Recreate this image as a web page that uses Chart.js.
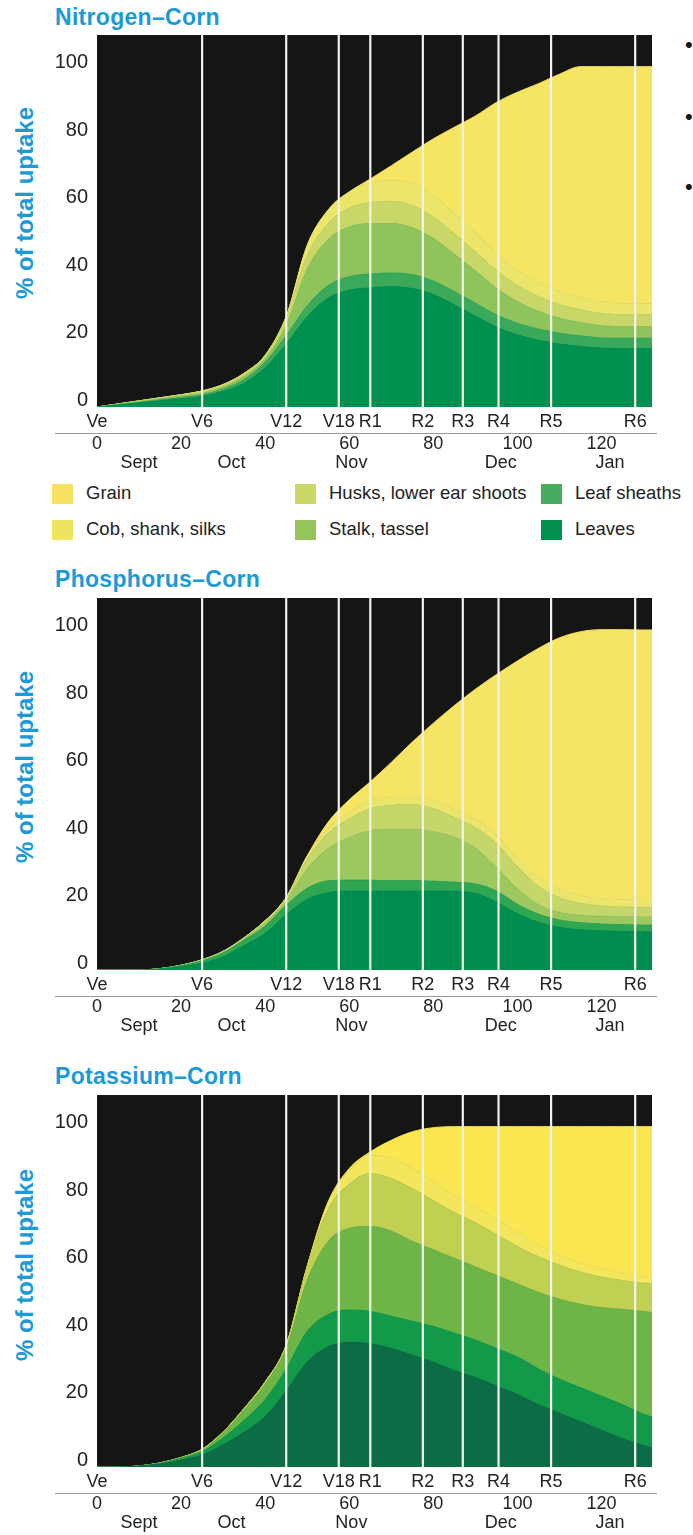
<!DOCTYPE html>
<html>
<head>
<meta charset="utf-8">
<title>Nutrient uptake - corn</title>
<script src="https://cdn.jsdelivr.net/npm/chart.js@4.4.1/dist/chart.umd.min.js"></script>
<style>
  body {
    margin: 0;
    width: 693px;
    height: 1535px;
    position: relative;
    overflow: hidden;
    background: #fff;
    font-family: "Liberation Sans", Arial, sans-serif;
  }
  .title {
    position: absolute;
    left: 55px;
    font-size: 23px;
    line-height: 23px;
    font-weight: bold;
    letter-spacing: 0.3px;
    color: #1b9ad7;
  }
  .ytitle {
    position: absolute;
    left: -95px;
    width: 240px;
    height: 24px;
    line-height: 24px;
    font-size: 24px;
    font-weight: bold;
    color: #1b9ad7;
    text-align: center;
    transform: rotate(-90deg);
  }
  .box {
    position: absolute;
    left: 0;
    width: 693px;
    height: 450px;
  }
  .sw {
    position: absolute;
    width: 21px;
    height: 20px;
  }
  .lg {
    position: absolute;
    font-size: 18.5px;
    line-height: 20px;
    color: #222;
    white-space: nowrap;
  }
  .bullet {
    position: absolute;
    left: 685px;
    font-size: 22px;
    line-height: 22px;
    color: #111;
  }
</style>
</head>
<body>
<div class="title" style="top:6px">Nitrogen–Corn</div>
<div class="title" style="top:568px">Phosphorus–Corn</div>
<div class="title" style="top:1065px">Potassium–Corn</div>

<div class="ytitle" style="top:191px">% of total uptake</div>
<div class="ytitle" style="top:755px">% of total uptake</div>
<div class="ytitle" style="top:1253px">% of total uptake</div>

<div class="bullet" style="top:34px">•</div>
<div class="bullet" style="top:106px">•</div>
<div class="bullet" style="top:176px">•</div>

<div class="box" style="top:25px"><canvas id="nChart"></canvas></div>
<div class="box" style="top:588px"><canvas id="pChart"></canvas></div>
<div class="box" style="top:1085px"><canvas id="kChart"></canvas></div>

<div id="legend"></div>

<script>
// days after emergence
const days = [0, 5, 10, 15, 20, 25, 30, 35, 40, 45, 50, 55, 60, 65, 70, 75, 80, 85, 90, 95, 100, 105, 110, 115, 120, 125, 130, 132];

const stageDays = [0, 25, 45, 57.5, 65, 77.5, 87, 95.5, 108, 128];
const stageLabels = ["Ve", "V6", "V12", "V18", "R1", "R2", "R3", "R4", "R5", "R6"];
const dayTicks = [0, 20, 40, 60, 80, 100, 120];
const monthDays = [10, 32, 60.5, 96, 122];
const monthLabels = ["Sept", "Oct", "Nov", "Dec", "Jan"];
const yTicks = [0, 20, 40, 60, 80, 100];

const partNames = ["Leaves", "Leaf sheaths", "Stalk, tassel", "Husks, lower ear shoots", "Cob, shank, silks", "Grain"];

// Nitrogen, % of total uptake by plant part
const nLeaves = [0, 0.6, 1.2, 1.8, 2.4, 3.1, 4.6, 7, 11.5, 18.5, 26.5, 32, 34.3, 35, 35.3, 34.8, 33, 30, 26.7, 23.5, 21.2, 19.6, 18.5, 17.8, 17.3, 17.2, 17.2, 17.2];
const nSheaths = [0, 0.1, 0.2, 0.3, 0.4, 0.5, 0.7, 1.1, 1.7, 2.5, 3.2, 3.7, 4, 4.1, 4.1, 4.1, 4, 3.9, 3.8, 3.6, 3.4, 3.3, 3.2, 3.1, 3, 3, 3, 3];
const nStalk = [0, 0.1, 0.2, 0.3, 0.4, 0.5, 0.6, 0.9, 1, 3, 10.8, 13.5, 14.6, 14.8, 14.5, 13.8, 12.5, 11, 9.5, 7.8, 6.3, 5.2, 4.4, 3.9, 3.6, 3.4, 3.4, 3.4];
const nHusks = [0, 0.1, 0.2, 0.3, 0.4, 0.6, 0.7, 0.9, 1, 2.5, 4, 4.7, 5.5, 6.2, 6.5, 6.5, 6.3, 6, 5.6, 5.2, 4.8, 4.4, 4, 3.8, 3.6, 3.5, 3.5, 3.5];
const nCob = [0, 0, 0, 0, 0, 0, 0, 0, 0, 0, 3, 4, 4.8, 5.8, 6.3, 6.5, 6.3, 6, 5.5, 5, 4.5, 4.1, 3.8, 3.6, 3.5, 3.4, 3.4, 3.4];
const nGrain = [0, 0, 0, 0, 0, 0, 0, 0, 0, 0, 0, 0, 0, 1.1, 4.2, 9.2, 16.7, 25.3, 34.4, 44.4, 52.3, 58.4, 63.9, 67.8, 69, 69.5, 69.5, 69.5];

// Phosphorus
const pLeaves = [0, 0, 0, 0.3, 1, 2, 3.9, 7.2, 10.7, 16.2, 20.7, 22.7, 23.2, 23.2, 23.2, 23.2, 23.2, 23.1, 22.5, 20, 16.5, 14, 12.5, 11.8, 11.5, 11.3, 11.2, 11.2];
const pSheaths = [0, 0, 0, 0.1, 0.3, 0.7, 1.1, 1.6, 2.2, 2.8, 3.3, 3.5, 3.2, 3.2, 3, 3, 2.9, 2.7, 2.8, 3.2, 2.8, 2.4, 2.2, 2.1, 2, 2, 2, 2];
const pStalk = [0, 0, 0, 0, 0.1, 0.3, 0.3, 0.4, 0.9, 1.3, 5.7, 9.5, 12.5, 14.5, 15.2, 15.2, 14.5, 13.2, 10.5, 7, 4.5, 2.8, 2.2, 2.2, 2.3, 2.4, 2.4, 2.4];
const pHusks = [0, 0, 0, 0, 0, 0, 0.2, 0.3, 0.7, 1, 3, 4.5, 5.5, 6.5, 7, 7.2, 6.8, 5.8, 6, 7, 6.5, 5.3, 4.3, 3.5, 3, 2.8, 2.8, 2.8];
const pCob = [0, 0, 0, 0, 0, 0, 0, 0, 0, 0, 0.8, 1.5, 2, 2.5, 2.5, 2.5, 2.5, 2.5, 2.5, 2.5, 2.5, 2.5, 2.5, 2.3, 2.3, 2.3, 2.3, 2.3];
const pGrain = [0, 0, 0, 0, 0, 0, 0, 0, 0, 0, 0, 1.8, 3.6, 5.4, 10.1, 15.9, 22.6, 30.4, 38.2, 47.1, 58, 67.5, 73.9, 77.5, 78.9, 79.2, 79.2, 79.2];

// Potassium
const kLeaves = [0, 0, 0.3, 0.9, 2, 3.5, 6.5, 10.2, 14.8, 22.3, 30.8, 35.3, 36.6, 36.2, 34.8, 32.8, 30.8, 28.3, 26.3, 23.8, 21.3, 18.3, 15.8, 13.3, 10.8, 8.3, 6.3, 5.6];
const kSheaths = [0, 0, 0, 0.2, 0.5, 1, 2, 3.5, 5, 6.5, 9, 9.5, 9.5, 9.5, 9.5, 10, 10.5, 11, 11, 11, 11, 10.5, 10, 10, 10, 10, 9.2, 9.1];
const kStalk = [0, 0, 0, 0.1, 0.3, 0.5, 1.5, 3, 4.5, 6, 15, 21.5, 24, 25, 25, 23.5, 22.5, 22, 21.5, 21.5, 21.5, 22.5, 23.5, 24.5, 26, 28, 30.2, 30.7];
const kHusks = [0, 0, 0, 0, 0, 0.2, 0.3, 0.5, 0.7, 1, 4.2, 9.5, 13, 15.5, 15.5, 15.5, 14.5, 13.5, 13, 12, 11, 10.5, 10, 9.5, 9, 8.5, 8.3, 8.5];
const kCob = [0, 0, 0, 0, 0, 0, 0, 0, 0, 0, 0, 2, 4, 5.5, 6, 6, 5.5, 5, 4.5, 4.5, 4, 3.5, 3, 2.5, 2.5, 2.2, 2, 2];
const kGrain = [0, 0, 0, 0, 0, 0, 0, 0, 0, 0, 0, 0.2, 0.6, 0.9, 5.2, 10.7, 15.9, 20.2, 23.7, 27.2, 31.2, 34.7, 37.7, 40.2, 41.7, 43, 44, 44.1];

const textColor = "#222";
const plotBlack = "#151515";

Chart.defaults.font.family = "'Liberation Sans', Arial, sans-serif";
Chart.defaults.font.size = 18;
Chart.defaults.color = textColor;

// black plot area, white stage lines on top of the areas
const plotDecor = {
  id: "plotDecor",
  beforeDraw(chart) {
    const { ctx, chartArea } = chart;
    ctx.save();
    ctx.fillStyle = plotBlack;
    ctx.fillRect(chartArea.left, chartArea.top, chartArea.right - chartArea.left, chartArea.bottom - chartArea.top);
    ctx.restore();
  },
  afterDatasetsDraw(chart) {
    const { ctx, chartArea, scales } = chart;
    ctx.save();
    ctx.strokeStyle = "#f3f3ec";
    ctx.lineWidth = 2.2;
    stageDays.slice(1).forEach((d) => {
      const x = scales.x.getPixelForValue(d);
      ctx.beginPath();
      ctx.moveTo(x, chartArea.top);
      ctx.lineTo(x, chartArea.bottom);
      ctx.stroke();
    });
    // thin rule under the stage names
    const y = Math.round(scales.x.bottom) + 0.5;
    ctx.strokeStyle = "#9a9a9a";
    ctx.lineWidth = 1;
    ctx.beginPath();
    ctx.moveTo(chartArea.left - 42, y);
    ctx.lineTo(chartArea.right + 5, y);
    ctx.stroke();
    ctx.restore();
  },
};

const bottomAxis = (weight, height, padding, values, labelFn) => ({
  type: "linear",
  position: "bottom",
  min: 0,
  max: 132,
  weight: weight,
  grid: { display: false, drawTicks: false },
  border: { display: false },
  afterBuildTicks: (scale) => {
    scale.ticks = values.map((v) => ({ value: v }));
  },
  afterFit: (scale) => {
    scale.height = height;
  },
  ticks: {
    autoSkip: false,
    maxRotation: 0,
    padding: padding,
    color: textColor,
    callback: labelFn,
  },
});

const makeChart = (canvasId, parts, colors) => {
  const ctx = document.getElementById(canvasId).getContext("2d");

  const datasets = parts.map((values, i) => ({
    label: partNames[i],
    data: days.map((d, j) => ({ x: d, y: values[j] })),
    backgroundColor: colors[i],
    borderColor: colors[i],
    borderWidth: 1,
    fill: i === 0 ? "origin" : "-1",
    pointRadius: 0,
    cubicInterpolationMode: "monotone",
  }));

  return new Chart(ctx, {
    type: "line",
    data: { datasets: datasets },
    options: {
      responsive: true,
      maintainAspectRatio: false,
      animation: false,
      events: [],
      layout: { padding: { left: 0, right: 41, top: 10, bottom: 1 } },
      plugins: {
        legend: { display: false },
        tooltip: { enabled: false },
      },
      scales: {
        x: bottomAxis(0, 26, 4, stageDays, (v, i) => stageLabels[i]),
        xDay: bottomAxis(1, 19, 0, dayTicks, (v) => String(v)),
        xMonth: bottomAxis(2, 22, 0, monthDays, (v, i) => monthLabels[i]),
        y: {
          stacked: true,
          min: 0,
          max: 109.3,
          display: false,
        },
        yLab: {
          type: "linear",
          position: "left",
          min: -2,
          max: 108.15,
          grid: { display: false, drawTicks: false },
          border: { display: false },
          afterBuildTicks: (scale) => {
            scale.ticks = yTicks.map((v) => ({ value: v }));
          },
          afterFit: (scale) => {
            scale.width = 97;
            // labels sit well inside the plot, no extra room needed
            scale.paddingTop = 0;
            scale.paddingBottom = 0;
          },
          ticks: {
            padding: 9,
            color: textColor,
            font: { size: 20 },
          },
        },
      },
    },
    plugins: [plotDecor],
  });
};

// leaves, sheaths, stalk, husks, cob, grain
const nColors = ["#00904f", "#3aaa5a", "#8fc45c", "#c8d768", "#ece56c", "#f6e463"];
const pColors = ["#008e50", "#2ea652", "#9cc85f", "#c5d66a", "#ece56c", "#f6e465"];
const kColors = ["#0b6c45", "#13994a", "#6cb546", "#bfd053", "#f3e55c", "#fae650"];

makeChart("nChart", [nLeaves, nSheaths, nStalk, nHusks, nCob, nGrain], nColors);
makeChart("pChart", [pLeaves, pSheaths, pStalk, pHusks, pCob, pGrain], pColors);
makeChart("kChart", [kLeaves, kSheaths, kStalk, kHusks, kCob, kGrain], kColors);

// legend, two rows of three
const legendColors = ["#008f4f", "#45ad5f", "#95c45b", "#ccd866", "#efe45e", "#f8e061"];
const legendSlots = [
  { part: 5, left: 52, top: 483 },
  { part: 3, left: 295, top: 483 },
  { part: 1, left: 541, top: 483 },
  { part: 4, left: 52, top: 519 },
  { part: 2, left: 295, top: 519 },
  { part: 0, left: 541, top: 519 },
];
const legend = document.getElementById("legend");
legendSlots.forEach((slot) => {
  const sw = document.createElement("div");
  sw.className = "sw";
  sw.style.left = slot.left + "px";
  sw.style.top = slot.top + 1 + "px";
  sw.style.background = legendColors[slot.part];
  legend.appendChild(sw);

  const label = document.createElement("div");
  label.className = "lg";
  label.style.left = slot.left + 34 + "px";
  label.style.top = slot.top + "px";
  label.textContent = partNames[slot.part];
  legend.appendChild(label);
});
</script>
</body>
</html>
